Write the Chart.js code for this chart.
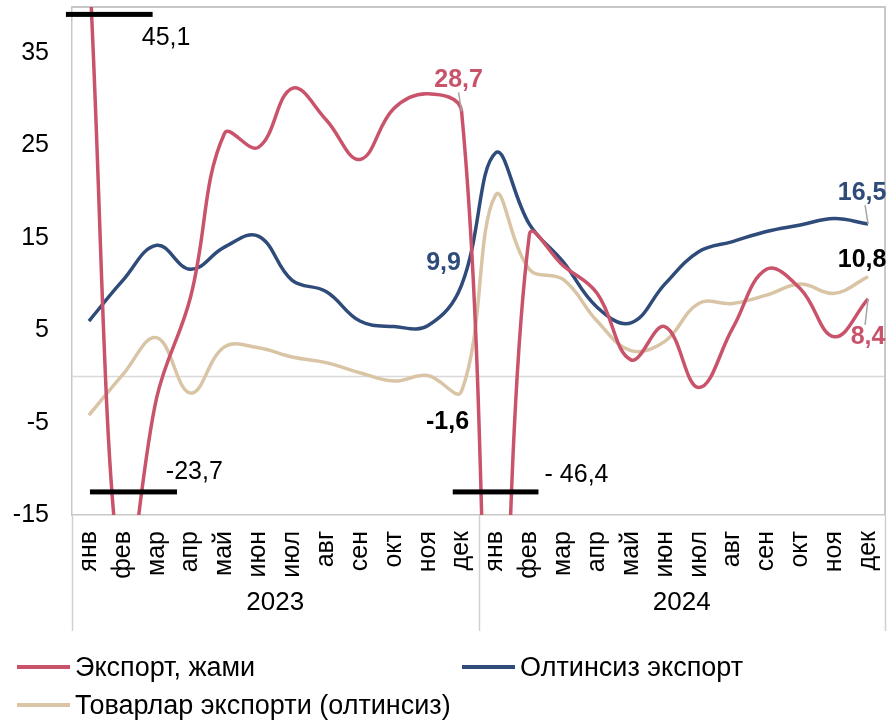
<!DOCTYPE html>
<html>
<head>
<meta charset="utf-8">
<script src="https://cdn.jsdelivr.net/npm/chart.js@4"></script>
<style>
    html, body { margin: 0; padding: 0; background: #fff; }
    #wrap { position: relative; width: 891px; height: 722px; }
    #legend {
        position: absolute; left: 17px; top: 648px; width: 874px;
        display: flex; flex-wrap: wrap;
        font-family: 'Liberation Sans', Arial, sans-serif; font-size: 27px; color: #000;
    }
    .item { display: flex; align-items: center; height: 38px; white-space: nowrap; }
    .item.col1 { width: 445px; }
    .item.full { width: 874px; }
    .swatch { display: inline-block; width: 53px; height: 4px; margin-right: 5px; }
</style>
</head>
<body>
<div id="wrap">
    <canvas id="exportChart" width="891" height="722"></canvas>
    <div id="legend"></div>
</div>
<script>
// ==================== data ====================
const months = ['янв', 'фев', 'мар', 'апр', 'май', 'июн', 'июл', 'авг', 'сен', 'окт', 'ноя', 'дек',
                'янв', 'фев', 'мар', 'апр', 'май', 'июн', 'июл', 'авг', 'сен', 'окт', 'ноя', 'дек'];
const years = ['2023', '2024'];
const yTicks = [-15, -5, 5, 15, 25, 35];

const exportTotal = [45.1, -23.7, -2.3, 8.6, 26.3, 24.8, 31.2, 27.8, 23.5, 29.0, 30.6, 28.7,
                     -46.4, 15.3, 12.0, 9.0, 1.8, 5.4, -1.2, 5.2, 11.6, 9.5, 4.3, 8.4];
const exportNoGold = [6.0, 10.4, 14.2, 11.6, 14.0, 15.2, 10.4, 9.2, 6.0, 5.4, 5.5, 9.9,
                      24.2, 16.5, 12.4, 7.5, 5.8, 10.0, 13.5, 14.6, 15.7, 16.4, 17.1, 16.5];
const goodsNoGold = [-4.2, 0.2, 4.2, -1.8, 3.2, 3.1, 2.1, 1.5, 0.4, -0.5, 0.1, -1.6,
                     19.6, 11.6, 10.5, 6.0, 2.8, 3.8, 7.9, 7.9, 8.8, 10.0, 9.0, 10.8];

const seriesNames = ['Экспорт, жами', 'Олтинсиз экспорт', 'Товарлар экспорти (олтинсиз)'];
const seriesColors = ['#C9536B', '#2E4B7A', '#D9C5A5'];

// off-scale values, marked with black bars (index range, value level, label)
const breaks = [
    { from: -0.68, to: 1.88, level: 39.2, text: '45,1', tx: 1.56, ty: 36.6 },
    { from: 0.03, to: 2.6, level: -12.5, text: '-23,7', tx: 2.27, ty: -10.4 },
    { from: 10.74, to: 13.27, level: -12.5, text: '- 46,4', tx: 13.45, ty: -10.7 }
];

// point labels: series, index, text, colour
const pointLabels = [
    { s: 0, i: 11, text: '28,7', color: '#C9536B', dx: -3, dy: -31, lead: true },
    { s: 1, i: 11, text: '9,9', color: '#2E4B7A', dx: -18, dy: -22, lead: false },
    { s: 2, i: 11, text: '-1,6', color: '#000000', dx: -14, dy: 31, lead: false },
    { s: 1, i: 23, text: '16,5', color: '#2E4B7A', dx: -6, dy: -31, lead: true },
    { s: 2, i: 23, text: '10,8', color: '#000000', dx: -6, dy: -17, lead: false },
    { s: 0, i: 23, text: '8,4', color: '#C9536B', dx: 0, dy: 38, lead: true }
];

const FONT = "'Liberation Sans', Arial, sans-serif";

// ==================== decorations ====================
const decorPlugin = {
    id: 'decor',
    beforeDatasetsDraw(chart) {
        const { ctx, chartArea: a, scales: { y } } = chart;
        ctx.save();
        // zero line
        ctx.strokeStyle = '#d9d9d9';
        ctx.lineWidth = 1.5;
        const y0 = y.getPixelForValue(0);
        ctx.beginPath();
        ctx.moveTo(a.left, y0);
        ctx.lineTo(a.right, y0);
        ctx.stroke();
        // top / right border
        ctx.strokeStyle = '#c8c8c8';
        ctx.lineWidth = 2;
        ctx.beginPath();
        ctx.moveTo(a.left, a.top);
        ctx.lineTo(a.right, a.top);
        ctx.lineTo(a.right, a.bottom);
        ctx.stroke();
        ctx.restore();
    },
    afterDraw(chart) {
        const { ctx, chartArea: a, scales: { x, y } } = chart;
        ctx.save();

        // year groups under the month labels
        const half = (x.getPixelForValue(1) - x.getPixelForValue(0)) / 2;
        ctx.strokeStyle = '#d0d0d0';
        ctx.lineWidth = 1.5;
        const bounds = [0, 12, 24].map(i => x.getPixelForValue(i) - half);
        bounds.forEach(px => {
            ctx.beginPath();
            ctx.moveTo(Math.round(px) + 0.5, a.bottom);
            ctx.lineTo(Math.round(px) + 0.5, a.bottom + 116);
            ctx.stroke();
        });
        ctx.fillStyle = '#000';
        ctx.font = '26px ' + FONT;
        ctx.textAlign = 'center';
        ctx.textBaseline = 'middle';
        years.forEach((yr, k) => {
            ctx.fillText(yr, (bounds[k] + bounds[k + 1]) / 2, a.bottom + 88);
        });

        // break bars
        breaks.forEach(b => {
            const py = y.getPixelForValue(b.level);
            ctx.fillStyle = '#000';
            ctx.fillRect(x.getPixelForValue(b.from), py - 2.5, x.getPixelForValue(b.to) - x.getPixelForValue(b.from), 5);
            ctx.font = '25px ' + FONT;
            ctx.textAlign = 'left';
            ctx.fillText(b.text, x.getPixelForValue(b.tx), y.getPixelForValue(b.ty));
        });

        // point labels
        ctx.font = 'bold 25px ' + FONT;
        ctx.textAlign = 'center';
        pointLabels.forEach(l => {
            const pt = chart.getDatasetMeta(l.s).data[l.i];
            const lx = pt.x + l.dx, ly = pt.y + l.dy;
            if (l.lead) {
                ctx.strokeStyle = '#a6a6a6';
                ctx.lineWidth = 1.5;
                ctx.beginPath();
                const sy = l.dy < 0 ? ly + 12 : ly - 12;
                ctx.moveTo(pt.x - 3, sy);
                ctx.lineTo(pt.x, pt.y);
                ctx.stroke();
            }
            ctx.fillStyle = l.color;
            ctx.fillText(l.text, lx, ly);
        });
        ctx.restore();
    }
};

function noPad(s) {
    s.paddingTop = 0;
    s.paddingBottom = 0;
    s.paddingLeft = 0;
    s.paddingRight = 0;
}

// ==================== chart ====================
function makeDataset(label, data, color) {
    return {
        label: label,
        data: data,
        borderColor: color,
        backgroundColor: color,
        borderWidth: 3.5,
        pointRadius: 0,
        tension: 0.4,
        fill: false
    };
}

const chart = new Chart(document.getElementById('exportChart').getContext('2d'), {
    type: 'line',
    data: {
        labels: months,
        datasets: [
            makeDataset(seriesNames[0], exportTotal, seriesColors[0]),
            makeDataset(seriesNames[1], exportNoGold, seriesColors[1]),
            makeDataset(seriesNames[2], goodsNoGold, seriesColors[2])
        ]
    },
    options: {
        responsive: false,
        animation: false,
        devicePixelRatio: 1,
        layout: { padding: { top: 7, right: 6, left: 0, bottom: 0 } },
        plugins: { legend: { display: false }, tooltip: { enabled: false } },
        scales: {
            x: {
                offset: true,
                grid: { display: false, drawTicks: false },
                border: { color: '#c8c8c8', width: 1.5 },
                ticks: {
                    autoSkip: false, maxRotation: 90, minRotation: 90,
                    padding: 16, color: '#000', font: { family: FONT, size: 25 }
                },
                afterFit: s => { s.height = 207; noPad(s); }
            },
            y: {
                min: -15,
                max: 40,
                afterBuildTicks: s => { s.ticks = yTicks.map(v => ({ value: v })); },
                grid: { display: false, drawTicks: false },
                border: { color: '#c8c8c8', width: 1.5 },
                ticks: {
                    padding: 23, color: '#000', font: { family: FONT, size: 25 },
                    callback: v => String(v)
                },
                afterFit: s => { s.width = 72; noPad(s); }
            }
        }
    },
    plugins: [decorPlugin]
});

// ==================== legend ====================
const legendEl = document.getElementById('legend');
['col1', '', 'full'].forEach((cls, k) => {
    const item = document.createElement('span');
    item.className = 'item ' + cls;
    item.innerHTML = '<span class="swatch" style="background:' + seriesColors[k] + '"></span>' + seriesNames[k];
    legendEl.appendChild(item);
});
</script>
</body>
</html>
